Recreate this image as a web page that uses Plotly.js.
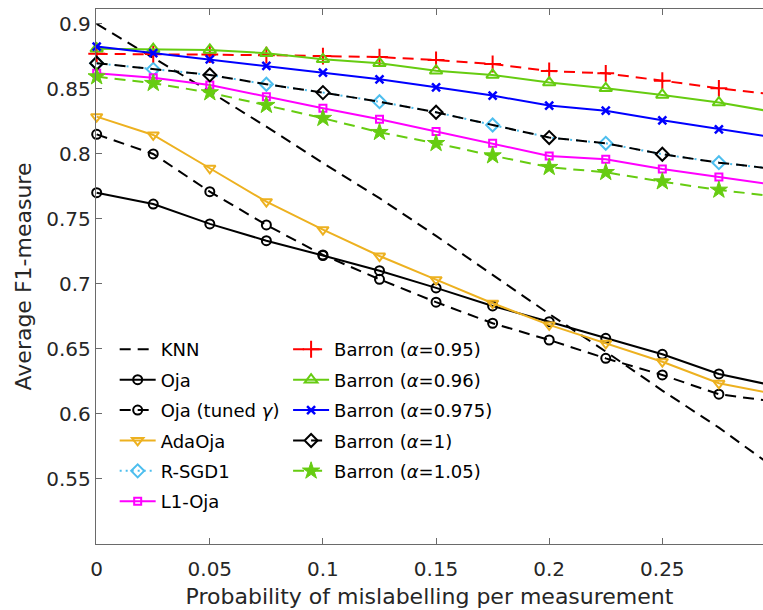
<!DOCTYPE html>
<html><head><meta charset="utf-8">
<script src="https://cdn.plot.ly/plotly-3.0.1.min.js"></script>
<style>html,body{margin:0;padding:0;background:#fff}#chart{width:763px;height:610px}</style>
</head><body><div id="chart"></div>
<script>
// x positions: probability of mislabelling per measurement
const xValues = [0, 0.025, 0.05, 0.075, 0.1, 0.125, 0.15, 0.175, 0.2, 0.225, 0.25, 0.275, 0.3];

// Average F1-measure per method
const knn       = [0.900, 0.874, 0.848, 0.821, 0.793, 0.766, 0.737, 0.707, 0.677, 0.648, 0.618, 0.5895, 0.558];
const oja       = [0.7702, 0.7615, 0.7462, 0.7333, 0.7219, 0.7102, 0.6970, 0.6831, 0.6710, 0.6582, 0.6459, 0.6308, 0.6215];
const ojaTuned  = [0.8151, 0.8000, 0.7710, 0.7454, 0.7223, 0.7036, 0.6860, 0.6698, 0.6569, 0.6428, 0.6300, 0.6152, 0.6095];
const adaOja    = [0.8287, 0.8146, 0.7890, 0.7633, 0.7418, 0.7215, 0.7033, 0.6852, 0.6685, 0.6544, 0.6402, 0.6236, 0.6153];
const rSgd1     = [0.8698, 0.8651, 0.8608, 0.8536, 0.8472, 0.8402, 0.8321, 0.8223, 0.8126, 0.8082, 0.7998, 0.7933, 0.7884];
const l1Oja     = [0.8621, 0.8587, 0.8531, 0.8441, 0.8351, 0.8267, 0.8172, 0.8082, 0.7985, 0.7959, 0.7885, 0.7823, 0.7761];
const barron095 = [0.8770, 0.8768, 0.8765, 0.8760, 0.8753, 0.8745, 0.8723, 0.8692, 0.8638, 0.8620, 0.8564, 0.8505, 0.8456];
const barron096 = [0.8810, 0.8806, 0.8800, 0.8775, 0.8728, 0.8698, 0.8640, 0.8608, 0.8549, 0.8505, 0.8454, 0.8395, 0.8321];
const barron0975= [0.8826, 0.8775, 0.8728, 0.8677, 0.8626, 0.8574, 0.8513, 0.8449, 0.8372, 0.8333, 0.8259, 0.8190, 0.8125];
const barron1   = [0.8698, 0.8651, 0.8608, 0.8536, 0.8472, 0.8402, 0.8321, 0.8223, 0.8126, 0.8082, 0.7998, 0.7933, 0.7884];
const barron105 = [0.8595, 0.8544, 0.8472, 0.8375, 0.8275, 0.8167, 0.8082, 0.7987, 0.7898, 0.7859, 0.7787, 0.7723, 0.7674];

const xTickVals = [0, 0.05, 0.1, 0.15, 0.2, 0.25];
const xTickText = ['0', '0.05', '0.1', '0.15', '0.2', '0.25'];
const yTickVals = [0.55, 0.6, 0.65, 0.7, 0.75, 0.8, 0.85, 0.9];
const yTickText = ['0.55', '0.6', '0.65', '0.7', '0.75', '0.8', '0.85', '0.9'];

const FONT = 'DejaVu Sans, Liberation Sans, Arial, sans-serif';
const DASH = '11px,7px';
const DOT = '2px,4px';
const NONE = 'rgba(0,0,0,0)';

function series(name, y, color, dash, symbol, size, legend, opts) {
  opts = opts || {};
  const t = {
    type: 'scatter',
    x: xValues, y: y, name: name,
    mode: symbol ? 'lines+markers' : 'lines',
    line: {color: color, width: 2, dash: dash},
    cliponaxis: false,
    legend: legend,
    legendgroup: name,
    hoverinfo: 'skip'
  };
  if (symbol) {
    t.marker = {symbol: symbol, size: size, color: opts.markerColor || color,
                line: {width: opts.mlw || 2, color: color}};
  }
  return t;
}

// alternate marker visibility for the overlapping R-SGD1 / Barron(α=1) curves
const rSgdColors = xValues.map((v, i) => (i % 2 === 1 || i === 0) ? '#4DBEEE' : NONE);
const barron1Colors = xValues.map((v, i) => (i % 2 === 0) ? '#000000' : NONE);

const traces = [
  series('KNN', knn, '#000000', DASH, null, 0, 'legend'),
  series('Oja', oja, '#000000', 'solid', 'circle-open', 9, 'legend'),
  series('Oja (tuned <i>γ</i>)', ojaTuned, '#000000', DASH, 'circle-open', 9, 'legend'),
  series('AdaOja', adaOja, '#EDB120', 'solid', 'triangle-down-open', 10, 'legend'),
  series('R-SGD1', rSgd1, '#4DBEEE', DOT, 'diamond-open', 10, 'legend', {markerColor: rSgdColors}),
  series('L1-Oja', l1Oja, '#FF00FF', 'solid', 'square-open', 7, 'legend'),
  series('Barron (<i>α</i>=0.95)', barron095, '#FF0000', DASH, 'cross-thin-open', 12, 'legend2'),
  series('Barron (<i>α</i>=0.96)', barron096, '#66CC11', 'solid', 'triangle-up-open', 11, 'legend2'),
  series('Barron (<i>α</i>=0.975)', barron0975, '#0000FF', 'solid', 'x-thin-open', 8, 'legend2', {mlw: 2.5}),
  series('Barron (<i>α</i>=1)', barron1, '#000000', DASH, 'diamond-open', 10, 'legend2', {markerColor: barron1Colors}),
  series('Barron (<i>α</i>=1.05)', barron105, '#66CC11', DASH, 'star', 13, 'legend2', {mlw: 1})
];

const legendBase = {
  xanchor: 'left', yanchor: 'top',
  bgcolor: NONE, borderwidth: 0,
  font: {family: FONT, size: 18, color: '#000'},
  traceorder: 'grouped', tracegroupgap: 4,
  itemwidth: 36,
  itemclick: false, itemdoubleclick: false
};

const axisCommon = {
  showgrid: false, zeroline: false,
  showline: true, linecolor: '#6a6a6a', linewidth: 1.2,
  ticks: 'inside', ticklen: 6, tickwidth: 1, tickcolor: '#6a6a6a',
  tickfont: {family: FONT, size: 20, color: '#262626'},
  fixedrange: true
};

const layout = {
  width: 763, height: 610,
  margin: {l: 96, r: 0, t: 9, b: 66, pad: 0},
  paper_bgcolor: '#ffffff', plot_bgcolor: '#ffffff',
  font: {family: FONT, color: '#262626'},
  showlegend: true,
  xaxis: Object.assign({}, axisCommon, {
    range: [-0.0003, 0.2945],
    tickmode: 'array', tickvals: xTickVals, ticktext: xTickText,
    mirror: 'ticks',
    ticklabelstandoff: 7,
    title: {text: 'Probability of mislabelling per measurement', font: {family: FONT, size: 22, color: '#262626'}, standoff: 8}
  }),
  yaxis: Object.assign({}, axisCommon, {
    range: [0.5, 0.9115],
    tickmode: 'array', tickvals: yTickVals, ticktext: yTickText,
    title: {text: 'Average F1-measure', font: {family: FONT, size: 22, color: '#262626'}, standoff: 8}
  }),
  legend: Object.assign({}, legendBase, {x: 0.028, y: 0.398}),
  legend2: Object.assign({}, legendBase, {x: 0.288, y: 0.398})
};

Plotly.newPlot('chart', traces, layout, {displayModeBar: false, staticPlot: true});
</script>
</body></html>
